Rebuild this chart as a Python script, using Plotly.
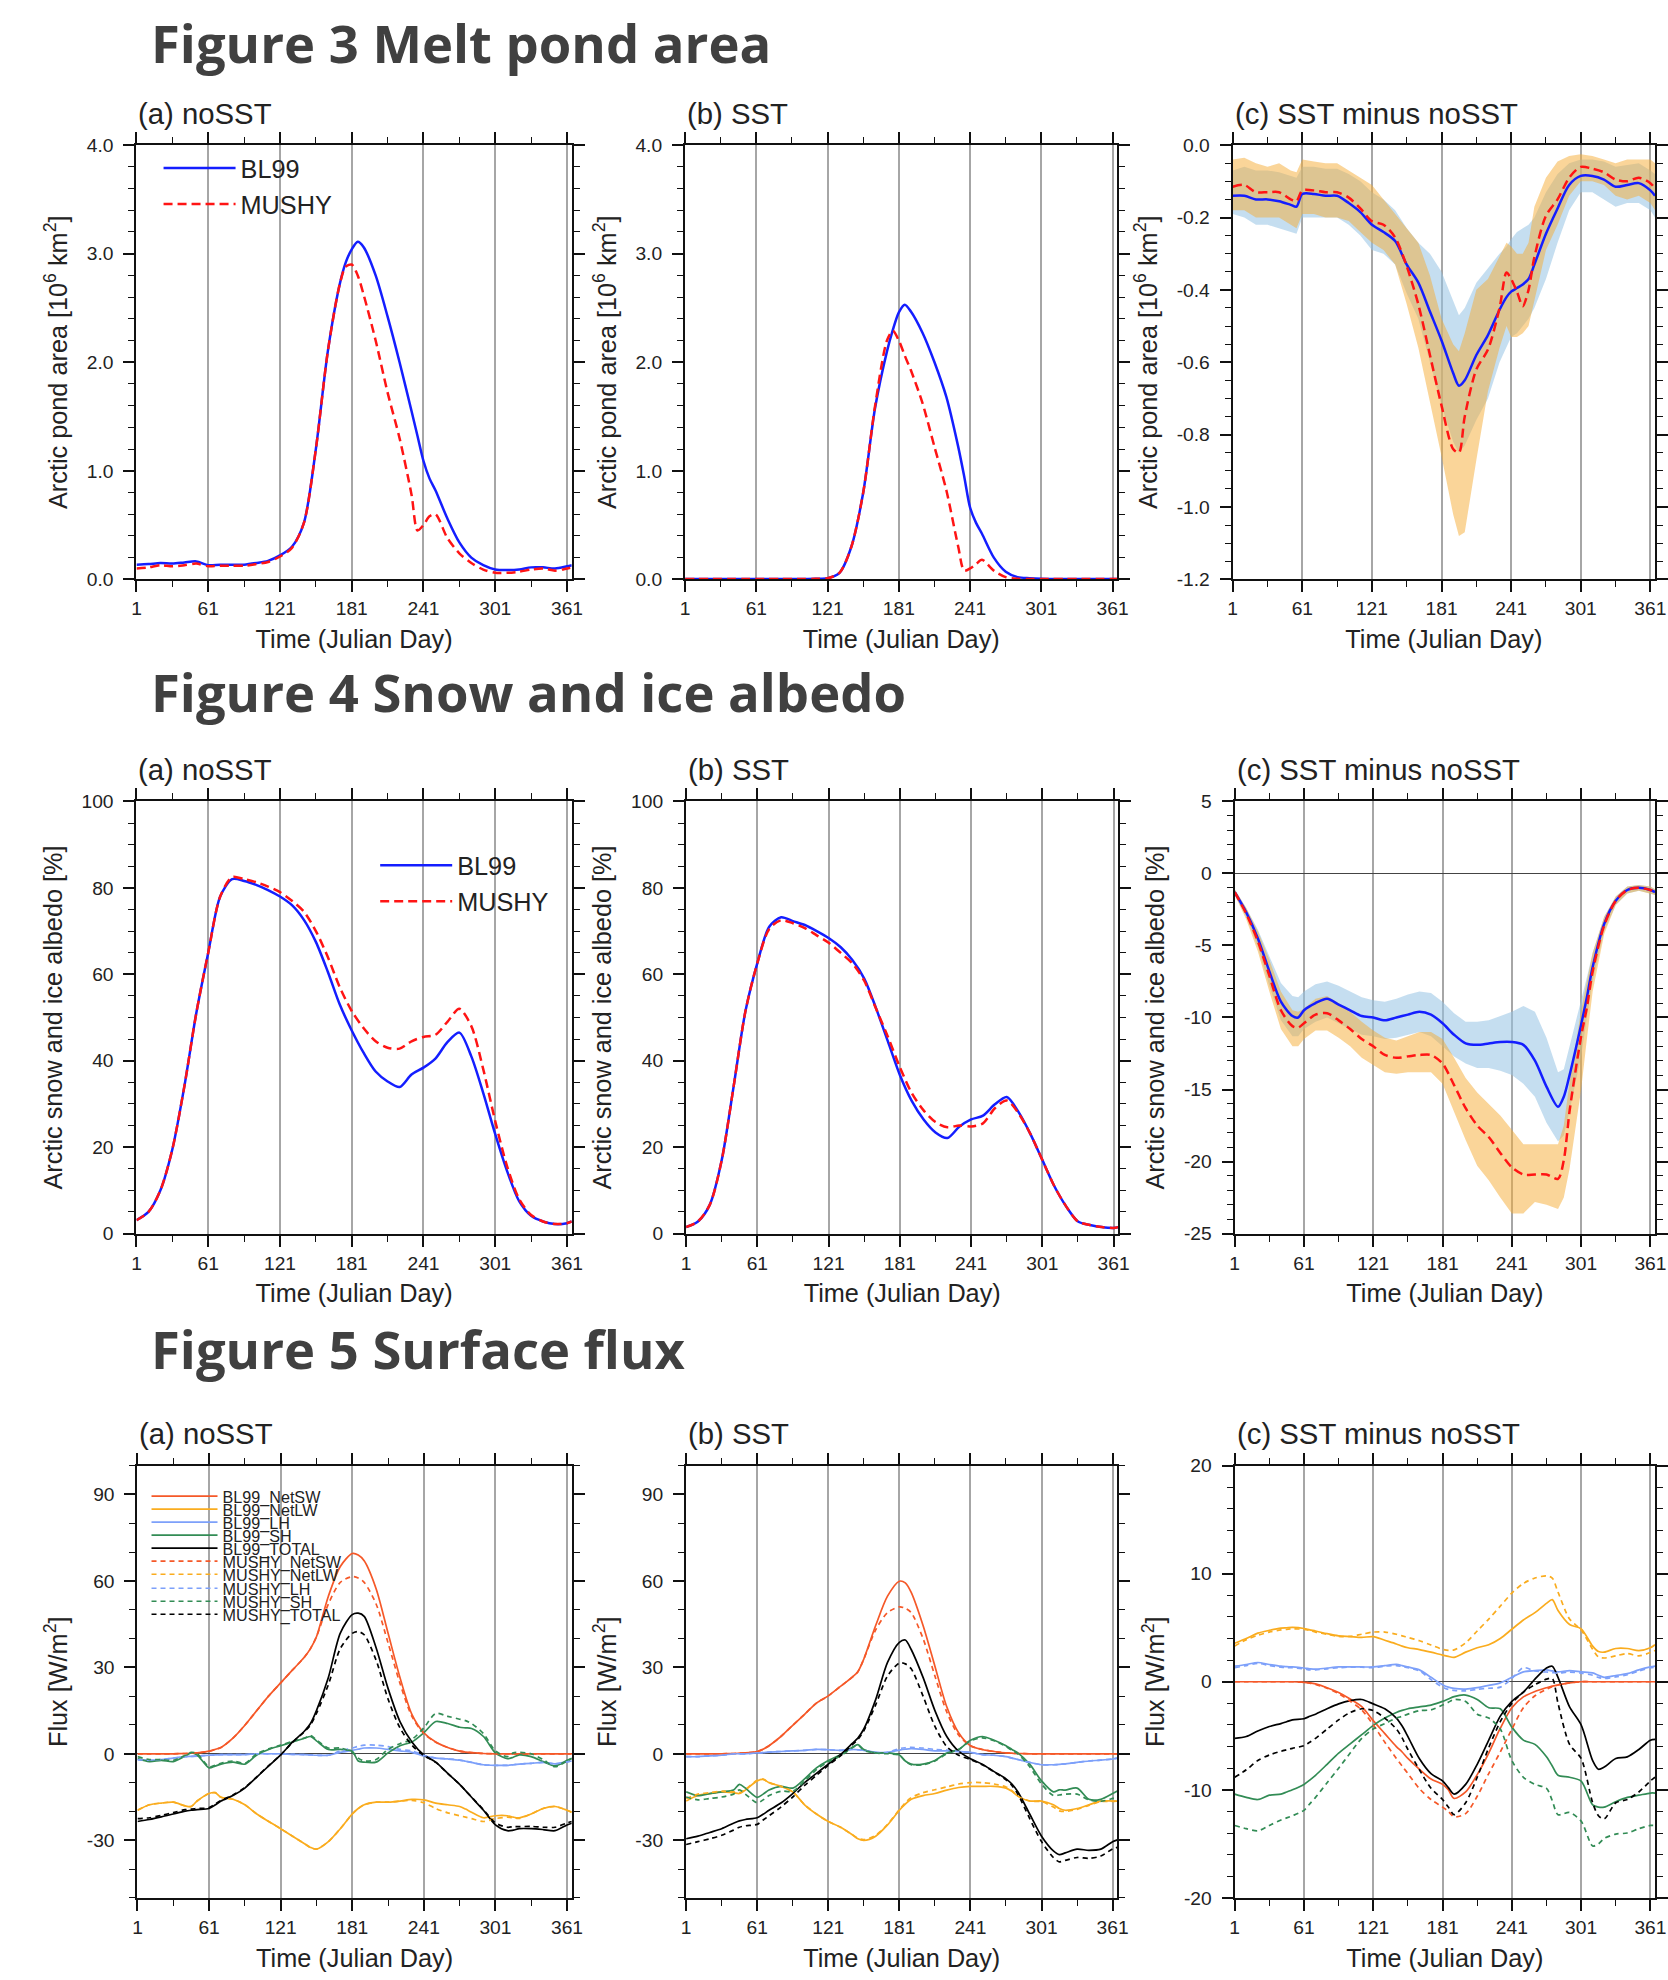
import plotly.graph_objects as go

# Target positions below are given in pixels of the final 1668x1980 picture.
# The page shows the figure with the browser's 8px body margin and a slight
# shrink (measured), so positions are mapped through that.
W, H = 1668, 1980
SHRINK_X, SHRINK_Y, BODY_MARGIN = 0.9875, 0.989, 8
FONT = "Liberation Sans, Arial, Helvetica, sans-serif"
TFONT = "Open Sans, Noto Sans, sans-serif"
AXC = "#111111"
TXT = "#222222"


def fx(x):
    return (x / SHRINK_X - BODY_MARGIN) / W


def fy(y):
    return 1 - (y / SHRINK_Y - BODY_MARGIN) / H


def fs(size):
    return size / SHRINK_Y


# ---------------- tick labels ----------------
X_TICKS = [1, 61, 121, 181, 241, 301, 361]
X_TICKTEXT = ["1", "61", "121", "181", "241", "301", "361"]
POND_TICKS = [0, 1, 2, 3, 4]
POND_TICKTEXT = ["0.0", "1.0", "2.0", "3.0", "4.0"]
PDIFF_TICKS = [-1.2, -1.0, -0.8, -0.6, -0.4, -0.2, 0.0]
PDIFF_TICKTEXT = ["-1.2", "-1.0", "-0.8", "-0.6", "-0.4", "-0.2", "0.0"]
ALB_TICKS = [0, 20, 40, 60, 80, 100]
ALB_TICKTEXT = ["0", "20", "40", "60", "80", "100"]
ADIFF_TICKS = [-25, -20, -15, -10, -5, 0, 5]
ADIFF_TICKTEXT = ["-25", "-20", "-15", "-10", "-5", "0", "5"]
FLUX_TICKS = [-30, 0, 30, 60, 90]
FLUX_TICKTEXT = ["-30", "0", "30", "60", "90"]
FDIFF_TICKS = [-20, -10, 0, 10, 20]
FDIFF_TICKTEXT = ["-20", "-10", "0", "10", "20"]

# ---------------- Figure 3: melt pond area ----------------
DAY3 = [1, 11, 21, 31, 41, 51, 61, 71, 81, 91, 101, 111, 121, 131, 141, 151, 161, 171,
        176, 181, 186, 191, 201, 211, 221, 231, 236, 241, 246, 251, 261, 271, 281, 291, 301,
        311, 321, 331, 341, 351, 361, 365]
POND_NOSST_BL99 = [0.135, 0.14, 0.15, 0.145, 0.155, 0.165, 0.13, 0.135, 0.135, 0.135,
                   0.15, 0.17, 0.22, 0.3, 0.52, 1.2, 2.1, 2.72,
                   2.92, 3.04, 3.11, 3.06, 2.8, 2.42, 2.0, 1.55,
                   1.32, 1.09, 0.93, 0.82, 0.56, 0.34, 0.2, 0.13, 0.09,
                   0.085, 0.09, 0.11, 0.11, 0.1, 0.12, 0.13]
POND_NOSST_MUSHY = [0.1, 0.11, 0.13, 0.12, 0.13, 0.145, 0.12, 0.125, 0.125, 0.125,
                    0.14, 0.16, 0.21, 0.29, 0.52, 1.2, 2.1, 2.72,
                    2.88, 2.9, 2.8, 2.62, 2.2, 1.72, 1.3, 0.78,
                    0.45, 0.5, 0.58, 0.6, 0.38, 0.24, 0.15, 0.09, 0.06,
                    0.06, 0.07, 0.09, 0.1, 0.08, 0.1, 0.11]
POND_SST_BL99 = [0.002, 0.002, 0.002, 0.002, 0.002, 0.002, 0.002, 0.002, 0.002, 0.002,
                 0.003, 0.005, 0.01, 0.06, 0.3, 0.8, 1.58, 2.1,
                 2.3, 2.46, 2.53, 2.47, 2.27, 2.0, 1.68, 1.22,
                 0.95, 0.66, 0.52, 0.42, 0.2, 0.07, 0.02, 0.01, 0.005,
                 0.003, 0.002, 0.002, 0.002, 0.002, 0.002, 0.002]
POND_SST_MUSHY = [0.002, 0.002, 0.002, 0.002, 0.002, 0.002, 0.002, 0.002, 0.002, 0.002,
                  0.003, 0.005, 0.01, 0.06, 0.3, 0.8, 1.6, 2.2,
                  2.29, 2.2, 2.06, 1.93, 1.62, 1.22, 0.82, 0.3,
                  0.08, 0.1, 0.14, 0.18, 0.08, 0.02, 0.005, 0.002, 0.002,
                  0.002, 0.002, 0.002, 0.002, 0.002, 0.002, 0.002]

DAY3C = [1, 11, 21, 31, 41, 51, 56, 61, 71, 81, 91, 101, 111, 121, 131, 141, 151, 161, 171,
         181, 191, 196, 201, 211, 221, 231, 237, 241, 246, 251, 256, 261, 271, 281, 291, 301,
         311, 321, 331, 341, 351, 361, 365]
PDIFF_BL99 = [-0.14, -0.14, -0.15, -0.15, -0.155, -0.165, -0.17, -0.135, -0.135, -0.14, -0.14,
              -0.16, -0.185, -0.22, -0.24, -0.265, -0.33, -0.38, -0.46, -0.54, -0.63, -0.665,
              -0.65, -0.58, -0.525, -0.455, -0.42, -0.405, -0.395, -0.385, -0.37, -0.33, -0.245,
              -0.175, -0.11, -0.085, -0.085, -0.095, -0.115, -0.11, -0.105, -0.125, -0.14]
PDIFF_MUSHY = [-0.115, -0.11, -0.13, -0.13, -0.13, -0.15, -0.155, -0.125, -0.125, -0.13, -0.13,
               -0.145, -0.175, -0.21, -0.22, -0.255, -0.335, -0.44, -0.58, -0.72, -0.84, -0.85,
               -0.75, -0.62, -0.565, -0.45, -0.352, -0.37, -0.405, -0.445, -0.4, -0.31, -0.195,
               -0.15, -0.09, -0.06, -0.065, -0.075, -0.095, -0.1, -0.09, -0.105, -0.12]
PDIFF_BL99_HI = [-0.07, -0.06, -0.07, -0.07, -0.075, -0.085, -0.09, -0.06, -0.06, -0.065, -0.065,
                 -0.08, -0.1, -0.13, -0.15, -0.18, -0.23, -0.27, -0.3, -0.35, -0.43, -0.47,
                 -0.45, -0.38, -0.34, -0.3, -0.28, -0.26, -0.24, -0.23, -0.22, -0.2, -0.13,
                 -0.08, -0.05, -0.04, -0.04, -0.045, -0.06, -0.055, -0.05, -0.07, -0.08]
PDIFF_BL99_LO = [-0.19, -0.2, -0.22, -0.22, -0.23, -0.24, -0.245, -0.2, -0.2, -0.2, -0.2,
                 -0.22, -0.25, -0.29, -0.3, -0.33, -0.41, -0.48, -0.6, -0.72, -0.82, -0.85,
                 -0.83, -0.76, -0.7, -0.6, -0.56, -0.53, -0.52, -0.5, -0.48, -0.45, -0.37,
                 -0.27, -0.18, -0.13, -0.13, -0.15, -0.17, -0.16, -0.16, -0.18, -0.2]
PDIFF_MUSHY_HI = [-0.04, -0.035, -0.05, -0.06, -0.05, -0.07, -0.075, -0.04, -0.045, -0.05, -0.05,
                  -0.07, -0.09, -0.11, -0.15, -0.19, -0.23, -0.27, -0.36, -0.48, -0.55, -0.57,
                  -0.52, -0.4, -0.37, -0.31, -0.27, -0.28, -0.3, -0.3, -0.27, -0.17, -0.09,
                  -0.045, -0.03, -0.025, -0.03, -0.04, -0.05, -0.04, -0.04, -0.04, -0.05]
PDIFF_MUSHY_LO = [-0.18, -0.18, -0.2, -0.2, -0.2, -0.22, -0.23, -0.19, -0.19, -0.2, -0.2,
                  -0.21, -0.24, -0.27, -0.29, -0.33, -0.44, -0.56, -0.71, -0.86, -1.02, -1.08,
                  -1.07, -0.87, -0.68, -0.56, -0.5, -0.53, -0.53, -0.52, -0.5, -0.43, -0.29,
                  -0.22, -0.14, -0.1, -0.1, -0.11, -0.14, -0.15, -0.14, -0.16, -0.18]

# ---------------- Figure 4: snow and ice albedo (%) ----------------
DAY4 = [1, 11, 21, 31, 41, 51, 61, 71, 81, 91, 101, 111, 121, 131, 141, 151, 161, 171, 181,
        191, 201, 211, 221, 231, 241, 251, 261, 271, 281, 291, 301, 311, 321, 331, 341, 351,
        361, 365]
ALB_NOSST_BL99 = [3.1, 5, 10, 19.5, 34, 51, 65, 78, 82, 81.6, 80.7, 79.5, 78, 76, 72.6, 67.5,
                  60.6, 53, 47, 41.8, 37.5, 35.2, 33.9, 36.8, 38.4, 40.5, 44.3, 46.5, 41, 32.5,
                  23, 14.4, 7.5, 4.1, 2.8, 2.2, 2.4, 2.8]
ALB_NOSST_MUSHY = [3.1, 5, 10, 19.5, 34, 51, 65, 78, 82.5, 82, 81.3, 80.3, 79, 77, 74.5, 70,
                   64, 57, 51.5, 47.5, 44.5, 43, 42.8, 44.5, 45.5, 46, 49, 52, 48, 38,
                   26, 15.5, 8, 4.3, 2.8, 2.2, 2.4, 2.8]
ALB_SST_BL99 = [1.5, 2.8, 6.7, 17, 34, 51.5, 62.6, 71, 73.2, 72.3, 71.4, 70, 68.4, 66.3, 63.3,
                59, 52.1, 44.4, 36.7, 30.7, 26.4, 23.4, 22.1, 24.7, 26.4, 27.3, 29.9, 31.6,
                28.1, 23, 17, 11, 6.3, 2.8, 2, 1.5, 1.3, 1.5]
ALB_SST_MUSHY = [1.5, 2.8, 6.7, 17, 34, 51.5, 62.6, 70.5, 72.5, 71.8, 70.7, 69, 67.3, 65, 62.5,
                 58.5, 52, 45.5, 38.5, 32.5, 28.5, 25.8, 24.6, 25, 24.8, 25.5, 29, 30.8,
                 27.8, 23, 17, 11, 6.3, 2.8, 2, 1.5, 1.3, 1.5]

DAY4C = [1, 11, 21, 31, 41, 51, 56, 61, 71, 81, 91, 101, 111, 121, 131, 141, 151, 161, 171, 181,
         191, 201, 211, 221, 231, 241, 251, 261, 271, 281, 286, 291, 301, 306, 311, 321, 331,
         341, 351, 361, 365]
ADIFF_BL99 = [-1.3, -2.7, -4.5, -6.8, -8.9, -9.9, -10.0, -9.5, -9.0, -8.7, -9.1, -9.5, -9.9,
              -10.0, -10.2, -10.0, -9.8, -9.6, -9.8, -10.4, -11.2, -11.8, -11.9, -11.8, -11.7,
              -11.7, -11.9, -13.0, -14.8, -16.2, -15.5, -14.0, -10.5, -8.6, -6.5, -3.5, -1.9,
              -1.15, -1.0, -1.15, -1.3]
ADIFF_MUSHY = [-1.3, -2.8, -4.7, -7.1, -9.5, -10.6, -10.7, -10.4, -9.8, -9.7, -10.2, -10.8,
               -11.5, -12.0, -12.6, -12.8, -12.7, -12.6, -12.6, -13.2, -14.7, -16.3, -17.5,
               -18.3, -19.4, -20.4, -20.9, -20.9, -20.9, -21.2, -19.9, -16.5, -11.3, -9.3,
               -6.8, -3.6, -1.9, -1.15, -1.0, -1.15, -1.3]
ADIFF_BL99_HI = [-1.1, -2.4, -3.9, -5.8, -7.6, -8.5, -8.6, -8.2, -7.7, -7.5, -7.8, -8.2, -8.6,
                 -8.8, -8.9, -8.7, -8.4, -8.2, -8.3, -8.9, -9.7, -10.3, -10.3, -10.2, -9.9,
                 -9.6, -9.2, -9.6, -11.4, -13.8, -13.6, -12.0, -9.0, -7.2, -5.5, -3.0, -1.6,
                 -0.9, -0.8, -0.9, -1.1]
ADIFF_BL99_LO = [-1.5, -3.0, -5.1, -7.8, -10.2, -11.3, -11.3, -10.8, -10.3, -10.0, -10.4,
                 -10.8, -11.2, -11.3, -11.5, -11.4, -11.2, -11.0, -11.3, -12.0, -12.7, -13.2,
                 -13.5, -13.5, -13.7, -14.0, -14.6, -15.5, -17.3, -18.6, -18.2, -16.5, -12.7,
                 -10.0, -7.5, -4.0, -2.2, -1.4, -1.2, -1.4, -1.5]
ADIFF_MUSHY_HI = [-1.1, -2.4, -4.0, -6.0, -8.2, -9.5, -9.6, -9.4, -8.7, -8.5, -9.0, -9.6,
                  -10.3, -10.9, -11.4, -11.6, -11.3, -11.0, -11.0, -11.5, -12.8, -14.2, -15.2,
                  -16.0, -16.8, -17.8, -18.8, -18.8, -18.8, -18.8, -17.5, -14.5, -9.5, -7.5,
                  -5.5, -3.0, -1.6, -0.9, -0.8, -0.9, -1.1]
ADIFF_MUSHY_LO = [-1.5, -3.2, -5.4, -8.2, -10.8, -12.0, -12.0, -11.5, -10.9, -10.9, -11.4,
                  -12.0, -12.8, -13.3, -13.8, -13.9, -13.8, -13.8, -13.8, -14.6, -16.5, -18.5,
                  -20.3, -21.3, -22.5, -23.6, -23.6, -22.8, -23.0, -23.3, -22.5, -20.5, -15.0,
                  -11.5, -8.2, -4.2, -2.2, -1.4, -1.2, -1.4, -1.5]

# ---------------- Figure 5: surface flux (W/m2) ----------------
DAY5 = [1, 11, 21, 31, 41, 46, 51, 61, 66, 71, 81, 91, 101, 111, 121, 131, 141, 146, 151, 161,
        171, 181, 186, 191, 201, 211, 221, 231, 241, 251, 261, 271, 276, 281, 291, 301, 311, 316,
        321, 331, 341, 351, 361, 365]
FLUX_NAMES = ["NetSW", "NetLW", "LH", "SH", "TOTAL"]

# (a) noSST
NOSST_BL99 = {
    "NetSW": [0, 0, 0, 0, 0.1, 0.2, 0.3, 0.9, 1.5, 2.2, 5.4, 9.9, 15, 20.1, 24.6, 29.1, 33.6, 36.5,
              40.6, 54.7, 65, 69.5, 69, 67, 57.3, 41.9, 26.5, 13.7, 7.3, 4.1, 2.2, 0.9, 0.6, 0.4,
              0.1, 0, 0, 0, 0, 0, 0, 0, 0, 0],
    "NetLW": [-19.6, -17.7, -17.1, -16.8, -18.1, -18.3, -16.4, -13.8, -13.5, -15.1, -15.8, -17.7,
              -20.9, -23.5, -26, -28.6, -31.2, -32.5, -33.1, -30.5, -26, -20.9, -19, -17.7, -16.8,
              -16.8, -16.4, -15.8, -16, -17.1, -17.7, -18.3, -19.2, -20.3, -22.2, -21.5, -21.5,
              -22, -22.2, -20.9, -19, -18.3, -19.6, -20.3],
    "LH": [-2, -2.2, -2, -1.5, -1, -0.9, -0.8, -0.5, -0.4, -0.3, -0.3, -0.3, 0, 0, 0, -0.2, -0.3,
           -0.4, -0.5, -0.5, 0.5, 1.2, 1.6, 2, 2, 1.5, 1, 0.5, -0.8, -1.5, -1.8, -2.2, -2.6, -3,
           -3.8, -4, -4, -3.8, -3.6, -3.3, -3, -3.5, -2.8, -2.5],
    "SH": [-1.7, -2.7, -2.3, -2.7, -0.8, 0.3, -0.4, -4.9, -4.3, -3.6, -2.9, -3.6, -0.4, 1.5, 2.8,
           4.1, 5.4, 6, 4.5, 1.5, 1.5, 0.9, -2.5, -2.9, -2.9, 0.3, 2.8, 4.1, 7.3, 11.2, 10.5, 9.2,
           9, 8.8, 6, 0.3, -1.7, -1.2, -0.4, -1, -2.7, -4.2, -2.3, -1.7],
    "TOTAL": [-23.5, -22.8, -21.9, -20.9, -19.9, -19.6, -19.4, -19, -17.8, -16.4, -14.5, -11.9,
              -8.1, -4.2, -0.4, 4.1, 7.9, 10.5, 15, 26.5, 41.9, 48.3, 48.8, 47.7, 36.8, 22.7,
              11.2, 4.1, -0.4, -2.9, -6.8, -10.6, -12.8, -15.1, -19.6, -24.7, -26.7, -26.5, -26,
              -26, -26.3, -26.7, -24.7, -24.1],
}
NOSST_MUSHY = {
    "NetSW": [0, 0, 0, 0, 0.1, 0.2, 0.3, 0.9, 1.5, 2.2, 5.4, 9.9, 15, 20.1, 24.6, 29.1, 33.6, 36.5,
              40.6, 52, 59.5, 61.5, 61, 59.5, 52, 38.5, 24.5, 13, 7, 4, 2.2, 0.9, 0.6, 0.4,
              0.1, 0, 0, 0, 0, 0, 0, 0, 0, 0],
    "NetLW": [-19.6, -17.7, -17.1, -16.8, -18.1, -18.3, -16.4, -13.8, -13.5, -15.1, -15.8, -17.7,
              -20.9, -23.5, -26, -28.6, -31.2, -32.5, -33.1, -30.5, -26, -20.9, -19, -17.7, -16.8,
              -16.8, -16.4, -16.2, -17, -19, -20.5, -21.5, -22, -22.5, -23.5, -22.5, -22,
              -22.2, -22.4, -20.9, -19, -18.3, -19.6, -20.3],
    "LH": [-2, -2.2, -2, -1.5, -1, -0.9, -0.8, -0.5, -0.4, -0.3, -0.3, -0.3, 0, 0, 0, -0.2, -0.3,
           -0.4, -0.5, -0.5, 1, 2, 2.6, 3, 3, 2.5, 1.5, 1.0, -0.5, -1.5, -1.8, -2.2, -2.6, -3,
           -3.8, -4, -4, -3.8, -3.6, -3.3, -3, -3.5, -2.8, -2.5],
    "SH": [-1, -2, -2, -2.3, -0.5, 0.5, 0, -4.5, -4, -3.3, -2.5, -3.3, 0, 1.7, 3, 4.3, 5.5, 6.3,
           4.8, 2, 2, 0.5, -1.5, -2.5, -2, 1.5, 3.5, 5, 9, 14, 13, 12, 11.5, 10.5, 7, 1, -1, 0.3,
           0.5, 0, -2, -4.5, -2.5, -1.5],
    "TOTAL": [-22.5, -22.2, -21.4, -20.4, -19.4, -19.2, -19, -18.7, -17.5, -16.2, -14.3, -11.7,
              -8, -4.1, -0.4, 4, 7.7, 10, 14, 24, 36.5, 41.8, 42.4, 41.3, 32.5, 19, 9, 3, -0.6,
              -3, -6.8, -10.6, -12.8, -15, -19.4, -24, -25.5, -25.3, -25.3, -25.2, -25.5, -25.5,
              -24, -23.5],
}
# (b) SST
SST_BL99 = {
    "NetSW": [0, 0, 0, 0, 0.1, 0.2, 0.3, 0.8, 1.6, 2.8, 6, 9.9, 13.7, 17.6, 20.1, 23.3, 26.5, 28.5,
              32.9, 44.5, 54.7, 59.9, 59.3, 56, 44.5, 30.4, 16.3, 7.3, 2.8, 1.5, 0.8, 0.3, 0.2,
              0.1, 0, 0, 0, 0, 0, 0, 0, 0, 0, 0],
    "NetLW": [-16.4, -14.5, -13.8, -13.2, -13.5, -13.8, -12.6, -9.4, -8.9, -10, -11.3, -13.2,
              -17.7, -20.9, -23.5, -25.4, -28, -29.5, -30.1, -28.6, -24.7, -19.6, -17.5, -15.8,
              -14.5, -13.8, -12.6, -11.7, -11.3, -11.3, -11.3, -11.9, -13, -14.7, -16.4, -16.4,
              -17.7, -19, -19.6, -19, -17.7, -16.4, -16.4, -16.4],
    "LH": [-1, -1, -0.7, -0.5, 0, 0, 0, 0.3, 0.4, 0.6, 0.8, 1, 1.2, 1.5, 1.4, 1.2, 1.5, 1.4, 1.2,
           0.5, 0.5, 1.3, 1.6, 1.8, 1.5, 1, 1, 0.8, 0.5, -0.3, -0.5, -1, -1.5, -2, -3, -3.8,
           -3.8, -3.7, -3.5, -3, -2.5, -2.2, -1.8, -1.5],
    "SH": [-13.2, -14.5, -13.8, -13.2, -12.6, -10.6, -11.9, -15.1, -14, -12.6, -11.3, -11.9,
           -8.7, -4.9, -2.3, -0.4, 2.2, 3.2, 1.5, 0.3, 0.3, -0.4, -2.5, -3.6, -3.6, -2.3, 0.3,
           1.5, 4.7, 6, 4.7, 2.8, 1.5, 0.3, -3.6, -9.4, -13.2, -12.5, -12.6, -11.9, -15.8,
           -15.8, -13.8, -12.9],
    "TOTAL": [-29.5, -28.6, -27.3, -26, -24.1, -23.3, -22.8, -22.2, -21, -19.6, -17.1, -13.8,
              -10, -6.8, -3.6, -0.4, 3.5, 5.5, 8.6, 18.8, 31.7, 38.7, 39.5, 36.2, 26.5, 15, 6,
              0.9, -1.7, -3.6, -6.2, -8.7, -10.5, -13.2, -20.9, -28.6, -33.7, -35, -34.4, -33.1,
              -33.5, -33.1, -30.5, -29.9],
}
SST_MUSHY = {
    "NetSW": [0, 0, 0, 0, 0.1, 0.2, 0.3, 0.8, 1.6, 2.8, 6, 9.9, 13.7, 17.6, 20.1, 23.3, 26.5, 28.5,
              32.9, 43, 49, 51, 50.5, 49, 40, 27, 14.5, 6.5, 2.8, 1.5, 0.8, 0.3, 0.2,
              0.1, 0, 0, 0, 0, 0, 0, 0, 0, 0, 0],
    "NetLW": [-15.5, -14, -13.5, -13, -13.2, -13.5, -12.4, -9.2, -8.8, -10, -11.3, -13.2, -17.7,
              -20.9, -23.5, -25.4, -28, -29.3, -29.8, -28.3, -24.5, -19.4, -17, -15.2, -13.5,
              -12.5, -11.5, -10.5, -10, -10, -10.5, -11.5, -12.8, -14.7, -16.4, -16.6, -18.5,
              -19.8, -20, -19.3, -17.9, -16.6, -16.5, -16.4],
    "LH": [-1, -1, -0.7, -0.5, 0, 0, 0, 0.3, 0.4, 0.6, 0.8, 1, 1.2, 1.5, 1.4, 1.2, 1.5, 1.4, 1.2,
           0.5, 0.5, 1.8, 2.1, 2.2, 2, 1.5, 1.3, 0.8, 0.5, -0.3, -0.5, -1, -1.5, -2, -3, -3.8,
           -3.8, -3.7, -3.5, -3, -2.5, -2.2, -1.8, -1.5],
    "SH": [-15, -16, -15.5, -15, -14, -12.5, -14, -17, -16, -14.5, -13, -13, -9.5, -5.5, -2.8,
           -0.8, 2, 3, 1.2, 0.3, 0, -0.5, -2.5, -3.8, -3.8, -2.5, 0, 1.5, 4.5, 5.5, 4.5, 2.5, 1.2,
           0, -4.5, -10.5, -14.5, -14.3, -14, -14, -16, -16.5, -15.5, -15],
    "TOTAL": [-31.5, -30.5, -29.5, -28.3, -26.5, -25.5, -25, -24.5, -23, -21.5, -18.5, -15, -11,
              -7.5, -4, -0.8, 3, 5, 8, 17, 27, 31.5, 31.2, 29.5, 20, 9.5, 2.5, -0.5, -2, -3.8,
              -6.3, -9, -11, -14, -22.5, -30.5, -36, -37.5, -37, -36, -36.3, -35.5, -33, -32.5],
}
# (c) SST minus noSST
DIFF_BL99 = {
    "NetSW": [0, 0, 0, 0, 0, 0, 0, -0.05, -0.1, -0.2, -0.55, -1.0, -1.6, -2.3, -3.6, -4.8, -6.0,
              -6.5, -7.1, -8.1, -9.0, -9.5, -10.0, -10.8, -10.2, -8.6, -6.6, -4.3, -2.4, -1.4,
              -0.9, -0.55, -0.4, -0.3, -0.1, 0, 0, 0, 0, 0, 0, 0, 0, 0],
    "NetLW": [3.56, 4.0, 4.5, 4.76, 4.97, 5.0, 5.03, 4.93, 4.8, 4.7, 4.45, 4.25, 4.18, 4.1, 4.18,
              3.84, 3.5, 3.3, 3.15, 2.98, 2.74, 2.47, 2.35, 2.26, 2.74, 3.15, 3.42, 4.0, 4.86,
              5.72, 6.4, 7.26, 7.6, 6.6, 5.3, 4.9, 3.3, 2.8, 2.74, 3.08, 3.08, 2.88, 3.15, 3.42],
    "LH": [1.44, 1.6, 1.78, 1.6, 1.44, 1.4, 1.37, 1.27, 1.2, 1.16, 1.27, 1.37, 1.37, 1.37, 1.37,
           1.5, 1.6, 1.5, 1.37, 1.1, 0.41, -0.27, -0.5, -0.62, -0.68, -0.55, -0.34, -0.1, 0.41,
           0.92, 1.03, 1.1, 1.0, 0.92, 1.03, 0.92, 0.82, 0.6, 0.41, 0.58, 0.75, 1.1, 1.37, 1.44],
    "SH": [-10.4, -10.7, -10.9, -10.5, -10.4, -10.2, -10.0, -9.5, -9.1, -8.66, -7.64, -6.6,
           -5.75, -4.9, -4.04, -3.36, -2.84, -2.65, -2.5, -2.33, -2.16, -1.82, -1.6, -1.37,
           -1.23, -1.64, -2.4, -2.5, -4.2, -5.4, -5.8, -6.95, -7.8, -8.66, -8.84, -9.2, -11.4,
           -11.6, -11.6, -11.1, -10.7, -10.5, -10.3, -10.3],
    "TOTAL": [-5.24, -5.07, -4.55, -4.14, -3.87, -3.7, -3.53, -3.42, -3.2, -3.0, -2.5, -2.05,
              -1.75, -1.64, -2.05, -2.5, -3.36, -4.1, -5.07, -7.12, -8.5, -9.18, -9.8, -10.4,
              -9.5, -7.64, -5.4, -3.18, -1.82, -0.96, 0.24, 1.27, 1.44, 0.41, -2.33, -4.0, -7.3,
              -8.1, -7.9, -7.1, -6.95, -6.27, -5.41, -5.34],
}
DIFF_MUSHY = {
    "NetSW": [0, 0, 0, 0, 0, 0, 0, -0.05, -0.12, -0.25, -0.6, -1.1, -1.8, -2.6, -4.0, -5.6, -7.1,
              -7.8, -8.5, -9.9, -10.9, -11.6, -12.0, -12.5, -12.2, -10.6, -8.5, -6.5, -4.4, -2.4,
              -1.3, -0.7, -0.45, -0.3, -0.1, 0, 0, 0, 0, 0, 0, 0, 0, 0],
    "NetLW": [3.3, 3.9, 4.3, 4.6, 4.8, 4.85, 4.9, 4.85, 4.75, 4.6, 4.4, 4.2, 4.2, 4.4, 4.6, 4.6,
              4.4, 4.25, 4.1, 3.8, 3.4, 3.0, 2.9, 2.95, 3.6, 4.7, 5.8, 7.0, 8.2, 9.1, 9.6, 9.8,
              9.6, 8.3, 5.8, 4.8, 3.0, 2.3, 2.2, 2.4, 2.6, 2.4, 2.7, 2.9],
    "LH": [1.3, 1.5, 1.7, 1.5, 1.35, 1.3, 1.3, 1.2, 1.1, 1.1, 1.2, 1.3, 1.35, 1.35, 1.3, 1.45,
           1.5, 1.4, 1.3, 1.0, 0.2, -0.5, -0.7, -0.8, -0.85, -0.7, -0.6, -0.5, 0.3, 1.3, 1.0,
           0.9, 0.85, 0.8, 0.9, 0.8, 0.6, 0.4, 0.3, 0.45, 0.65, 1.0, 1.3, 1.35],
    "SH": [-13.3, -13.6, -13.8, -13.3, -12.8, -12.6, -12.4, -11.9, -11.3, -10.7, -9.35, -8.0,
           -6.6, -5.24, -4.38, -3.87, -3.36, -3.2, -3.0, -2.67, -2.6, -2.16, -1.9, -1.64, -1.82,
           -3.0, -3.36, -4.38, -7.29, -8.84, -9.5, -9.86, -11.0, -12.3, -12.1, -12.9, -15.2,
           -15.0, -14.5, -14.1, -14.0, -13.6, -13.3, -13.3],
    "TOTAL": [-8.84, -8.15, -7.29, -6.78, -6.44, -6.3, -6.16, -5.92, -5.6, -5.24, -4.38, -3.53,
              -2.84, -2.5, -2.67, -3.36, -4.38, -5.2, -6.27, -8.15, -9.86, -10.9, -11.6, -12.3,
              -11.2, -8.84, -6.1, -3.7, -2.0, -0.96, -0.27, 0.24, 0.3, -2.0, -5.8, -7.1, -11.2,
              -12.4, -12.7, -11.2, -10.9, -10.2, -9.18, -8.84],
}

# ---------------- styling ----------------
C_BL99 = "rgb(20,30,255)"
C_MUSHY = "rgb(255,20,20)"
FLUX_COLORS = {"NetSW": "rgb(245,88,40)", "NetLW": "rgb(250,172,30)", "LH": "rgb(125,160,250)",
               "SH": "rgb(50,140,85)", "TOTAL": "rgb(0,0,0)"}
BAND_BL99 = "rgba(150,195,228,0.55)"
BAND_MUSHY = "rgba(245,172,52,0.5)"

# panel boxes in picture pixels (x0, x1, y0, y1)
BOXES = [(139, 573, 143, 577), (686, 1117, 143, 577), (1232, 1665, 143, 577),
         (139, 573, 799, 1231), (687, 1118, 799, 1231), (1234, 1665, 799, 1231),
         (140, 573, 1463, 1895), (687, 1117, 1463, 1895), (1234, 1665, 1463, 1895)]
SUBTITLES = ["(a) noSST", "(b) SST", "(c) SST minus noSST"] * 3

fig = go.Figure()


def ax_ids(i):
    return ("x" if i == 1 else f"x{i}"), ("y" if i == 1 else f"y{i}")


def add_line(i, x, y, color, width, dash=None, name=None, legend=None):
    xa, ya = ax_ids(i)
    fig.add_trace(go.Scatter(
        x=x, y=y, mode="lines", xaxis=xa, yaxis=ya, name=name,
        line=dict(color=color, width=width, dash=dash, shape="spline", smoothing=0.8),
        showlegend=legend is not None, legend=legend if legend else "legend",
        hoverinfo="skip"))


def add_band(i, x, lo, hi, color):
    xa, ya = ax_ids(i)
    fig.add_trace(go.Scatter(
        x=list(x) + list(x)[::-1], y=list(hi) + list(lo)[::-1], mode="lines",
        xaxis=xa, yaxis=ya, fill="toself", fillcolor=color, line=dict(width=0),
        showlegend=False, hoverinfo="skip"))


# Figure 3
add_line(1, DAY3, POND_NOSST_BL99, C_BL99, 2.5, name="BL99", legend="legend")
add_line(1, DAY3, POND_NOSST_MUSHY, C_MUSHY, 2.5, dash="9px,5px", name="MUSHY", legend="legend")
add_line(2, DAY3, POND_SST_BL99, C_BL99, 2.5)
add_line(2, DAY3, POND_SST_MUSHY, C_MUSHY, 2.5, dash="9px,5px")
add_band(3, DAY3C, PDIFF_BL99_LO, PDIFF_BL99_HI, BAND_BL99)
add_band(3, DAY3C, PDIFF_MUSHY_LO, PDIFF_MUSHY_HI, BAND_MUSHY)
add_line(3, DAY3C, PDIFF_BL99, C_BL99, 2.5)
add_line(3, DAY3C, PDIFF_MUSHY, C_MUSHY, 2.5, dash="9px,5px")

# Figure 4
add_line(4, DAY4, ALB_NOSST_BL99, C_BL99, 2.5, name="BL99", legend="legend2")
add_line(4, DAY4, ALB_NOSST_MUSHY, C_MUSHY, 2.5, dash="9px,5px", name="MUSHY", legend="legend2")
add_line(5, DAY4, ALB_SST_BL99, C_BL99, 2.5)
add_line(5, DAY4, ALB_SST_MUSHY, C_MUSHY, 2.5, dash="9px,5px")
add_band(6, DAY4C, ADIFF_BL99_LO, ADIFF_BL99_HI, BAND_BL99)
add_band(6, DAY4C, ADIFF_MUSHY_LO, ADIFF_MUSHY_HI, BAND_MUSHY)
add_line(6, DAY4C, ADIFF_BL99, C_BL99, 2.5)
add_line(6, DAY4C, ADIFF_MUSHY, C_MUSHY, 2.5, dash="9px,5px")

# Figure 5 (each legend row of panel (a) gets its own compact legend box)
for i, (bl, mu) in zip([7, 8, 9], [(NOSST_BL99, NOSST_MUSHY), (SST_BL99, SST_MUSHY),
                                   (DIFF_BL99, DIFF_MUSHY)]):
    for j, k in enumerate(FLUX_NAMES):
        add_line(i, DAY5, bl[k], FLUX_COLORS[k], 1.7, name="BL99_" + k,
                 legend=f"legend{3 + j}" if i == 7 else None)
    for j, k in enumerate(FLUX_NAMES):
        add_line(i, DAY5, mu[k], FLUX_COLORS[k], 1.7, dash="5px,4px", name="MUSHY_" + k,
                 legend=f"legend{8 + j}" if i == 7 else None)

# ---------------- axes ----------------
YCFG = [
    ([0, 4], POND_TICKS, POND_TICKTEXT, 0.2, "Arctic pond area [10<sup>6</sup> km<sup>2</sup>]", False),
    ([0, 4], POND_TICKS, POND_TICKTEXT, 0.2, "Arctic pond area [10<sup>6</sup> km<sup>2</sup>]", False),
    ([-1.2, 0], PDIFF_TICKS, PDIFF_TICKTEXT, 0.05, "Arctic pond area [10<sup>6</sup> km<sup>2</sup>]", False),
    ([0, 100], ALB_TICKS, ALB_TICKTEXT, 5, "Arctic snow and ice albedo [%]", False),
    ([0, 100], ALB_TICKS, ALB_TICKTEXT, 5, "Arctic snow and ice albedo [%]", False),
    ([-25, 5], ADIFF_TICKS, ADIFF_TICKTEXT, 1, "Arctic snow and ice albedo [%]", True),
    ([-50, 100], FLUX_TICKS, FLUX_TICKTEXT, 10, "Flux [W/m<sup>2</sup>]", True),
    ([-50, 100], FLUX_TICKS, FLUX_TICKTEXT, 10, "Flux [W/m<sup>2</sup>]", True),
    ([-20, 20], FDIFF_TICKS, FDIFF_TICKTEXT, 2, "Flux [W/m<sup>2</sup>]", True),
]

layout = dict(
    width=W, height=H, margin=dict(l=0, r=0, t=0, b=0),
    paper_bgcolor="white", plot_bgcolor="white",
    font=dict(family=FONT, color=TXT),
    showlegend=True, hovermode=False,
)

annotations = []
for i, (box, ycfg) in enumerate(zip(BOXES, YCFG), start=1):
    x0, x1, y0, y1 = box
    xd = [fx(x0), min(fx(x1), 0.9988)]
    yd = [fy(y1), fy(y0)]
    xa, ya = ax_ids(i)
    rng, tv, tt, mdt, ytitle, zl = ycfg
    layout["xaxis" if i == 1 else f"xaxis{i}"] = dict(
        domain=xd, anchor=ya, range=[1, 365],
        tickmode="array", tickvals=X_TICKS, ticktext=X_TICKTEXT,
        ticks="outside", ticklen=fs(11), tickwidth=1.6, tickcolor=AXC,
        showline=True, linecolor=AXC, linewidth=2, mirror="ticks",
        showgrid=True, gridcolor="#a6a6a6", gridwidth=1.6, zeroline=False,
        minor=dict(tickmode="linear", tick0=1, dtick=30, ticks="outside", ticklen=fs(6),
                   tickwidth=1.2, tickcolor=AXC, showgrid=False),
        tickfont=dict(family=FONT, size=fs(19), color=TXT),
        title=dict(text="Time (Julian Day)", font=dict(family=FONT, size=fs(25), color=TXT),
                   standoff=12),
        fixedrange=True,
    )
    layout["yaxis" if i == 1 else f"yaxis{i}"] = dict(
        domain=yd, anchor=xa, range=rng,
        tickmode="array", tickvals=tv, ticktext=tt,
        ticks="outside", ticklen=fs(11), tickwidth=1.6, tickcolor=AXC,
        showline=True, linecolor=AXC, linewidth=2, mirror="ticks",
        showgrid=False, zeroline=zl, zerolinecolor="#444444", zerolinewidth=1.2,
        minor=dict(tickmode="linear", tick0=0, dtick=mdt, ticks="outside", ticklen=fs(6),
                   tickwidth=1.2, tickcolor=AXC, showgrid=False),
        tickfont=dict(family=FONT, size=fs(19), color=TXT),
        ticklabelstandoff=6,
        title=dict(text=ytitle, font=dict(family=FONT, size=fs(25), color=TXT), standoff=12),
        fixedrange=True,
    )
    annotations.append(dict(
        text=SUBTITLES[i - 1], x=fx(x0), y=fy(y0 - 32), xref="paper", yref="paper",
        xanchor="left", yanchor="middle", showarrow=False,
        font=dict(family=FONT, size=fs(29), color=TXT)))

FIG_TITLES = [("Figure 3 Melt pond area", 40), ("Figure 4 Snow and ice albedo", 689),
              ("Figure 5 Surface flux", 1346)]
for txt, yc in FIG_TITLES:
    annotations.append(dict(
        text="<b>" + txt + "</b>", x=fx(151), y=fy(yc), xref="paper", yref="paper",
        xanchor="left", yanchor="middle", showarrow=False,
        font=dict(family=TFONT, size=fs(52), color="#404040")))

layout["annotations"] = annotations
LEG_COMMON = dict(xanchor="left", bgcolor="rgba(0,0,0,0)", borderwidth=0, tracegroupgap=0)
layout["legend"] = dict(x=fx(161), y=fy(143), yanchor="top", itemwidth=72,
                        font=dict(family=FONT, size=fs(25), color=TXT), **LEG_COMMON)
layout["legend2"] = dict(x=fx(377), y=fy(840), yanchor="top", itemwidth=72,
                         font=dict(family=FONT, size=fs(25), color=TXT), **LEG_COMMON)
FLUX_LEG_ROWS = [1494, 1507, 1520, 1533, 1546, 1559, 1572, 1586, 1599, 1612]
for n, yrow in enumerate(FLUX_LEG_ROWS):
    layout[f"legend{3 + n}"] = dict(x=fx(149), y=fy(yrow), yanchor="middle", itemwidth=66,
                                    font=dict(family=FONT, size=fs(16), color=TXT), **LEG_COMMON)

fig.update_layout(**layout)
fig.write_html("out.html")
